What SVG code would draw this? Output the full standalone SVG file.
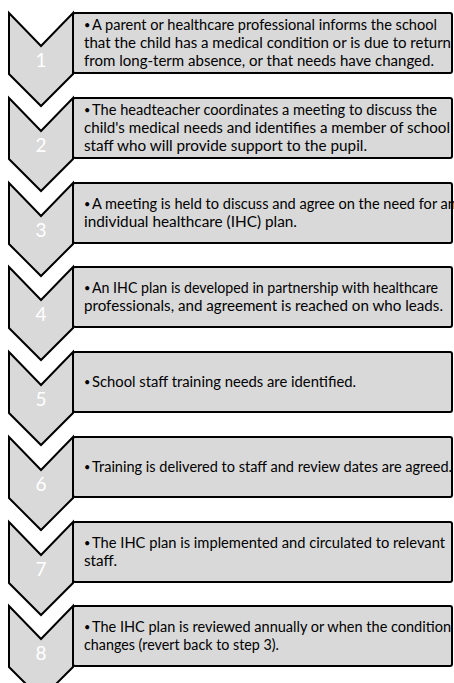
<svg xmlns="http://www.w3.org/2000/svg" width="454" height="683" viewBox="0 0 454 683">
<defs>
<style>
.chev{fill:#d9d9d9;stroke:#000;stroke-width:2;stroke-linejoin:miter}
.box{fill:#d9d9d9}
.boxl{fill:none;stroke:#000;stroke-width:2}
.num{font-family:Lato,"Open Sans",sans-serif;font-size:19px;fill:#fff;text-anchor:middle}
.t{font-family:Lato,"Liberation Sans",sans-serif;font-size:14.5px;fill:#000}
.b{font-family:Lato,"Liberation Sans",sans-serif;font-size:11px;fill:#000}
</style>
</defs>
<rect width="454" height="683" fill="#fff"/>
<g id="connectors"></g>

<g id="step1">
<polygon class="chev" points="9,13 41,46 73,13 73,74 41,106 9,74"/>
<text class="num" x="41" y="67">1</text>
<rect class="box" x="73" y="13" width="379" height="60" rx="2"/>
<text class="b" x="84" y="29">•</text>
<text class="t" x="92" y="30" textLength="345" lengthAdjust="spacingAndGlyphs">A parent or healthcare professional informs the school</text>
<text class="t" x="84" y="48" textLength="367" lengthAdjust="spacingAndGlyphs">that the child has a medical condition or is due to return</text>
<text class="t" x="84" y="66" textLength="350" lengthAdjust="spacingAndGlyphs">from long-term absence, or that needs have changed.</text>
<rect class="boxl" x="73" y="13" width="379" height="60" rx="2"/>
</g>

<g id="step2">
<polygon class="chev" points="9,98 41,131 73,98 73,159 41,191 9,159"/>
<text class="num" x="41" y="152">2</text>
<rect class="box" x="73" y="98" width="379" height="60" rx="2"/>
<text class="b" x="84" y="114">•</text>
<text class="t" x="92" y="115" textLength="345" lengthAdjust="spacingAndGlyphs">The headteacher coordinates a meeting to discuss the</text>
<text class="t" x="84" y="133" textLength="366" lengthAdjust="spacingAndGlyphs">child's medical needs and identifies a member of school</text>
<text class="t" x="84" y="151" textLength="283" lengthAdjust="spacingAndGlyphs">staff who will provide support to the pupil.</text>
<rect class="boxl" x="73" y="98" width="379" height="60" rx="2"/>
</g>

<g id="step3">
<polygon class="chev" points="9,183 41,216 73,183 73,244 41,276 9,244"/>
<text class="num" x="41" y="237">3</text>
<rect class="box" x="73" y="183" width="379" height="60" rx="2"/>
<text class="b" x="84" y="208">•</text>
<text class="t" x="92" y="209" textLength="364" lengthAdjust="spacingAndGlyphs">A meeting is held to discuss and agree on the need for an</text>
<text class="t" x="84" y="227" textLength="213" lengthAdjust="spacingAndGlyphs">individual healthcare (IHC) plan.</text>
<rect class="boxl" x="73" y="183" width="379" height="60" rx="2"/>
</g>

<g id="step4">
<polygon class="chev" points="9,267 41,300 73,267 73,328 41,360 9,328"/>
<text class="num" x="41" y="321">4</text>
<rect class="box" x="73" y="267" width="379" height="60" rx="2"/>
<text class="b" x="84" y="292">•</text>
<text class="t" x="92" y="293" textLength="346" lengthAdjust="spacingAndGlyphs">An IHC plan is developed in partnership with healthcare</text>
<text class="t" x="84" y="311" textLength="359" lengthAdjust="spacingAndGlyphs">professionals, and agreement is reached on who leads.</text>
<rect class="boxl" x="73" y="267" width="379" height="60" rx="2"/>
</g>

<g id="step5">
<polygon class="chev" points="9,352 41,385 73,352 73,413 41,445 9,413"/>
<text class="num" x="41" y="406">5</text>
<rect class="box" x="73" y="352" width="379" height="60" rx="2"/>
<text class="b" x="84" y="386">•</text>
<text class="t" x="92" y="387" textLength="264" lengthAdjust="spacingAndGlyphs">School staff training needs are identified.</text>
<rect class="boxl" x="73" y="352" width="379" height="60" rx="2"/>
</g>

<g id="step6">
<polygon class="chev" points="9,437 41,470 73,437 73,498 41,530 9,498"/>
<text class="num" x="41" y="491">6</text>
<rect class="box" x="73" y="437" width="379" height="60" rx="2"/>
<text class="b" x="84" y="471">•</text>
<text class="t" x="92" y="472" textLength="360" lengthAdjust="spacingAndGlyphs">Training is delivered to staff and review dates are agreed.</text>
<rect class="boxl" x="73" y="437" width="379" height="60" rx="2"/>
</g>

<g id="step7">
<polygon class="chev" points="9,522 41,555 73,522 73,583 41,615 9,583"/>
<text class="num" x="41" y="576">7</text>
<rect class="box" x="73" y="522" width="379" height="60" rx="2"/>
<text class="b" x="84" y="547">•</text>
<text class="t" x="92" y="548" textLength="353" lengthAdjust="spacingAndGlyphs">The IHC plan is implemented and circulated to relevant</text>
<text class="t" x="84" y="566" textLength="33" lengthAdjust="spacingAndGlyphs">staff.</text>
<rect class="boxl" x="73" y="522" width="379" height="60" rx="2"/>
</g>

<g id="step8">
<polygon class="chev" points="9,606 41,639 73,606 73,667 41,699 9,667"/>
<text class="num" x="41" y="660">8</text>
<rect class="box" x="73" y="606" width="379" height="60" rx="2"/>
<text class="b" x="84" y="631">•</text>
<text class="t" x="92" y="632" textLength="359" lengthAdjust="spacingAndGlyphs">The IHC plan is reviewed annually or when the condition</text>
<text class="t" x="84" y="650" textLength="195" lengthAdjust="spacingAndGlyphs">changes (revert back to step 3).</text>
<rect class="boxl" x="73" y="606" width="379" height="60" rx="2"/>
</g>
</svg>
